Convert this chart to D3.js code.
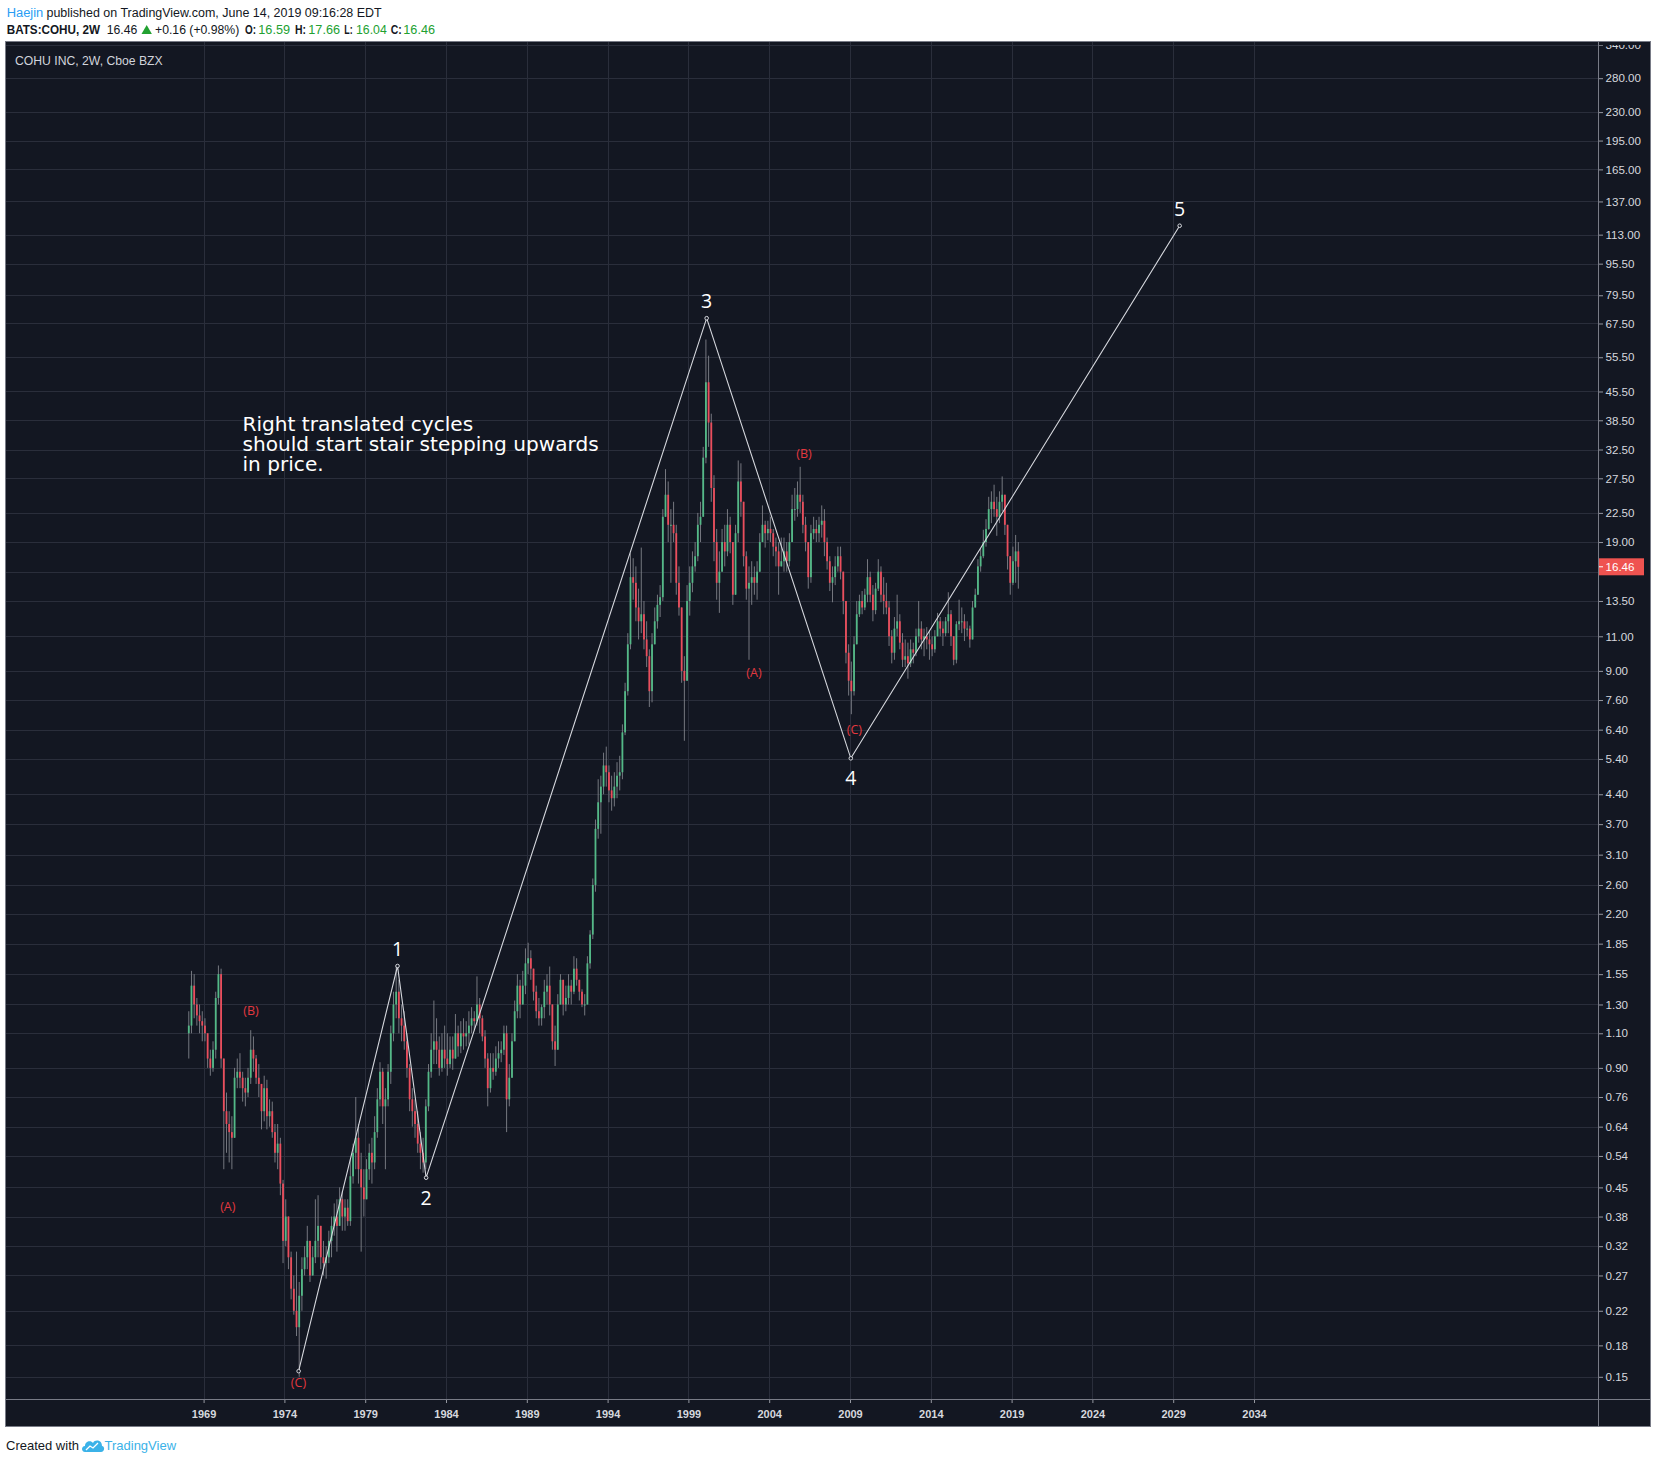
<!DOCTYPE html>
<html><head><meta charset="utf-8">
<script src="https://cdn.jsdelivr.net/npm/d3@7"></script>
<style>html,body{margin:0;padding:0;background:#fff;}svg{display:block}</style>
</head><body>
<svg id="c" width="1654" height="1463"></svg>
<script>
// ---------------- DATA ----------------
const startYear = 1968;          // first two-month period begins Jan 1968
const firstOpen = 1.10;
// [high, low, close] for each two-month period (open = previous close)
const bars = [
 [1.25,0.95,1.15],[1.58,1.10,1.45],[1.55,1.20,1.30],[1.35,1.15,1.22],[1.30,1.10,1.18],[1.25,1.05,1.15], // 1968
 [1.20,1.05,1.10],[1.10,0.90,0.95],[1.00,0.86,0.90],[1.05,0.88,1.00],[1.40,0.95,1.35],[1.63,1.30,1.55], // 1969
 [1.60,0.90,0.95],[0.95,0.50,0.70],[0.78,0.55,0.65],[0.70,0.52,0.62],[0.68,0.50,0.60],[0.90,0.60,0.85], // 1970
 [0.95,0.80,0.88],[0.98,0.80,0.85],[0.88,0.74,0.80],[0.85,0.72,0.78],[0.90,0.76,0.85],[1.12,0.82,1.00], // 1971
 [1.08,0.88,0.95],[0.97,0.82,0.85],[0.92,0.76,0.82],[0.82,0.63,0.70],[0.86,0.66,0.80],[0.84,0.63,0.68], // 1972
 [0.75,0.64,0.70],[0.74,0.60,0.62],[0.65,0.52,0.55],[0.65,0.50,0.58],[0.60,0.43,0.46],[0.47,0.29,0.33], // 1973
 [0.42,0.32,0.38],[0.36,0.28,0.30],[0.31,0.235,0.25],[0.27,0.215,0.22],[0.31,0.19,0.20],[0.26,0.15,0.24], // 1974
 [0.30,0.22,0.28],[0.32,0.27,0.30],[0.36,0.28,0.33],[0.33,0.26,0.27],[0.32,0.27,0.30],[0.42,0.29,0.33], // 1975
 [0.43,0.30,0.36],[0.36,0.28,0.30],[0.33,0.27,0.29],[0.32,0.265,0.30],[0.35,0.29,0.33],[0.38,0.30,0.36], // 1976
 [0.41,0.34,0.38],[0.42,0.31,0.36],[0.45,0.37,0.42],[0.44,0.35,0.38],[0.42,0.35,0.40],[0.42,0.36,0.37], // 1977
 [0.53,0.36,0.48],[0.58,0.46,0.55],[0.76,0.50,0.60],[0.65,0.46,0.50],[0.55,0.31,0.45],[0.50,0.38,0.42], // 1978
 [0.53,0.42,0.50],[0.58,0.47,0.55],[0.60,0.46,0.52],[0.68,0.50,0.62],[0.80,0.60,0.75],[0.93,0.72,0.88], // 1979
 [0.90,0.65,0.72],[0.80,0.50,0.75],[0.92,0.72,0.88],[1.15,0.82,1.10],[1.40,1.05,1.30],[1.62,1.20,1.40], // 1980
 [1.50,1.10,1.20],[1.30,1.05,1.15],[1.25,1.00,1.05],[1.10,0.85,0.90],[0.92,0.70,0.75],[0.80,0.64,0.70], // 1981
 [0.75,0.60,0.65],[0.70,0.55,0.58],[0.62,0.50,0.55],[0.60,0.49,0.52],[0.75,0.50,0.72],[0.92,0.70,0.88], // 1982
 [1.10,0.85,1.00],[1.33,0.92,1.05],[1.20,0.92,1.00],[1.08,0.86,0.90],[1.10,0.88,1.00],[1.15,0.90,0.95], // 1983
 [1.10,0.86,0.92],[1.08,0.90,1.00],[1.08,0.89,0.95],[1.23,0.97,1.10],[1.15,0.96,1.02],[1.18,0.98,1.10], // 1984
 [1.20,1.00,1.08],[1.18,1.02,1.10],[1.25,1.03,1.15],[1.28,1.10,1.20],[1.25,1.12,1.18],[1.53,1.15,1.30], // 1985
 [1.35,1.10,1.20],[1.22,1.05,1.08],[1.12,0.90,0.95],[0.98,0.72,0.80],[0.98,0.78,0.90],[0.98,0.84,0.88], // 1986
 [1.02,0.86,0.95],[1.05,0.90,0.98],[1.05,0.93,1.00],[1.15,0.97,1.10],[1.15,0.62,0.75],[0.92,0.72,0.85], // 1987
 [1.10,0.85,1.05],[1.33,1.05,1.25],[1.55,1.20,1.45],[1.50,1.20,1.30],[1.58,1.30,1.45],[1.80,1.38,1.65], // 1988
 [1.86,1.55,1.70],[1.78,1.50,1.60],[1.60,1.33,1.40],[1.45,1.20,1.25],[1.35,1.15,1.20],[1.30,1.15,1.28], // 1989
 [1.50,1.20,1.40],[1.55,1.30,1.45],[1.62,1.22,1.30],[1.30,1.00,1.05],[1.15,0.91,1.00],[1.38,1.05,1.30], // 1990
 [1.55,1.30,1.50],[1.50,1.22,1.30],[1.45,1.25,1.35],[1.55,1.30,1.45],[1.50,1.30,1.40],[1.72,1.38,1.60], // 1991
 [1.70,1.45,1.50],[1.50,1.33,1.40],[1.42,1.28,1.30],[1.38,1.22,1.30],[1.72,1.30,1.65],[2.00,1.60,1.95], // 1992
 [2.70,1.90,2.60],[3.80,2.50,3.60],[4.80,3.40,4.20],[4.90,3.50,4.60],[5.60,4.40,5.20],[5.80,4.60,5.00], // 1993
 [5.20,4.20,4.50],[4.90,4.00,4.30],[5.00,4.10,4.60],[5.30,4.30,4.90],[5.50,4.50,5.00],[6.60,4.80,6.30], // 1994
 [8.40,6.20,8.00],[11.2,7.80,10.5],[17.8,10.2,15.5],[17.3,13.6,15.0],[16.5,12.0,13.0],[14.5,10.8,12.0], // 1995
 [18.4,11.2,12.5],[13.5,10.2,10.8],[12.0,9.20,9.80],[10.2,7.30,8.00],[11.2,7.50,10.5],[13.0,10.5,12.0], // 1996
 [14.0,11.5,13.2],[14.8,12.3,13.8],[23.0,13.5,22.0],[29.0,22.0,25.0],[27.0,19.0,21.0],[23.0,15.0,21.0], // 1997
 [24.0,19.0,20.0],[21.0,14.0,15.0],[16.5,12.4,13.0],[13.0,8.40,9.00],[9.80,6.00,8.50],[14.8,8.50,13.5], // 1998
 [16.5,12.4,15.0],[18.0,14.2,16.5],[19.0,16.0,17.5],[22.5,17.0,21.0],[24.0,19.0,22.0],[33.0,22.0,31.0], // 1999
 [61.5,30.0,48.0],[56.0,33.0,38.0],[40.0,24.0,26.0],[28.0,17.0,19.0],[20.5,13.6,15.0],[18.0,12.6,16.0], // 2000
 [20.5,16.0,19.0],[21.0,16.5,18.0],[23.0,17.5,21.0],[22.0,17.8,19.0],[18.0,13.2,14.0],[21.0,15.5,20.0], // 2001
 [30.5,19.0,27.0],[30.0,22.0,24.0],[24.0,16.5,17.5],[18.0,13.6,14.5],[16.5,9.60,15.0],[17.0,13.2,15.5], // 2002
 [16.5,14.0,15.0],[17.0,13.6,16.0],[20.0,16.0,19.0],[23.5,19.0,21.0],[21.5,18.4,20.0],[21.5,19.2,20.5], // 2003
 [22.0,19.0,20.0],[20.5,17.5,18.5],[19.5,16.5,18.0],[19.0,14.0,16.5],[19.5,16.5,17.0],[19.5,16.0,18.0], // 2004
 [19.0,16.0,17.0],[20.0,16.5,19.0],[25.0,19.0,23.0],[26.0,21.5,23.0],[27.0,22.0,25.0],[29.4,22.5,24.0], // 2005
 [25.0,20.0,21.0],[22.0,18.0,19.0],[19.0,14.5,15.5],[21.0,15.0,20.0],[22.0,19.3,20.5],[21.6,19.0,20.0], // 2006
 [22.0,19.0,21.0],[23.5,19.5,21.5],[23.0,17.5,19.0],[19.5,16.2,17.0],[17.5,14.3,15.0],[16.5,13.4,15.5], // 2007
 [17.5,14.8,16.5],[18.5,16.0,17.5],[18.5,15.3,16.0],[16.0,12.5,13.5],[13.5,9.40,10.0],[10.5,7.80,8.50], // 2008
 [9.50,7.00,8.00],[11.0,7.80,10.5],[13.5,10.5,12.5],[14.0,12.3,13.5],[14.3,12.5,13.0],[14.5,12.8,14.0], // 2009
 [17.2,13.4,15.5],[16.0,13.4,14.0],[14.8,12.0,12.8],[15.0,12.5,14.5],[17.2,14.3,16.0],[16.5,13.4,14.0], // 2010
 [15.5,12.5,13.5],[15.0,12.5,13.0],[13.5,10.4,11.0],[11.4,9.40,10.0],[12.3,9.60,11.5],[14.0,11.0,12.0], // 2011
 [12.5,10.2,10.6],[11.2,9.20,9.60],[10.8,9.20,9.80],[10.6,8.60,9.40],[10.8,9.20,10.2],[10.6,9.40,10.0], // 2012
 [11.5,9.80,11.0],[13.5,10.6,11.5],[12.0,10.2,10.8],[11.5,9.80,11.0],[11.6,10.2,10.8],[11.4,9.60,10.5], // 2013
 [11.0,9.80,10.2],[11.4,10.0,11.0],[12.6,11.0,12.0],[12.3,11.0,11.5],[12.0,10.4,11.2],[12.3,11.0,12.0], // 2014
 [14.2,11.2,12.5],[12.8,10.4,11.0],[11.0,9.30,9.60],[12.0,9.40,11.8],[13.6,11.4,12.0],[13.0,11.2,12.0], // 2015
 [12.5,10.7,11.5],[12.0,11.0,11.5],[11.7,10.3,10.8],[13.5,10.8,13.0],[14.5,13.0,14.0],[17.2,14.0,16.5], // 2016
 [18.3,16.0,17.5],[20.4,17.3,19.0],[21.7,18.5,20.5],[24.7,20.4,23.0],[25.5,21.2,24.0],[26.5,22.0,23.0], // 2017
 [24.7,19.7,22.0],[25.5,21.2,24.0],[27.8,22.7,25.0],[25.0,19.8,21.0],[21.0,16.2,17.5],[17.5,14.0,15.0], // 2018
 [18.5,14.8,17.0],[19.8,15.0,18.0],[19.0,14.5,16.46]                                                     // 2019
];
const yearTicks = [1969,1974,1979,1984,1989,1994,1999,2004,2009,2014,2019,2024,2029,2034];
const priceTicks = [340,280,230,195,165,137,113,95.5,79.5,67.5,55.5,45.5,38.5,32.5,27.5,22.5,19,16,13.5,11,9,7.6,6.4,5.4,4.4,3.7,3.1,2.6,2.2,1.85,1.55,1.3,1.1,0.9,0.76,0.64,0.54,0.45,0.38,0.32,0.27,0.22,0.18,0.15];
const hiddenTick = 16;   // its label sits under the last-price box
const waveTimes  = [1974.88, 1981.0, 1982.77, 2000.13, 2009.05, 2029.4];
const wavePrices = [0.155, 1.625, 0.476, 69.6, 5.42, 119];
const waveLabels = ["", "1", "2", "3", "4", "5"];
const corrTimes  = [1970.50, 1971.93, 1974.87, 2003.06, 2006.15, 2009.27];
const corrPrices = [0.402, 1.255, 0.145, 8.91, 31.8, 6.41];
const corrLabels = ["(A)", "(B)", "(C)", "(A)", "(B)", "(C)"];
const noteLines = ["Right translated cycles", "should start stair stepping upwards", "in price."];
const noteTime = 1971.41, notePrice = 37.9;
const lastPrice = 16.46;

// ---------------- DRAW ----------------
const svg = d3.select("#c");
const plot = {l:6, t:42, r:1598, b:1399};
const frame = {l:6, t:42, r:1650, b:1426};
const x = d3.scaleLinear().domain([1969, 2034]).range([203.6, 1254]);
const y = d3.scaleLog().domain([0.15, 280]).range([1376.8, 78.2]);

const defs = svg.append("defs");
defs.append("clipPath").attr("id","plotClip").append("rect")
  .attr("x",plot.l).attr("y",plot.t).attr("width",plot.r-plot.l).attr("height",plot.b-plot.t);
defs.append("clipPath").attr("id","axisClip").append("rect")
  .attr("x",plot.r).attr("y",45).attr("width",frame.r-plot.r).attr("height",plot.b-45);

// background
svg.append("rect").attr("x",frame.l).attr("y",frame.t).attr("width",frame.r-frame.l).attr("height",frame.b-frame.t)
  .attr("fill","#131722");

// grid
const grid = svg.append("g").attr("clip-path","url(#plotClip)");
grid.selectAll("line.h").data(priceTicks).join("line").attr("class","h")
  .attr("x1",plot.l).attr("x2",plot.r).attr("y1",d=>Math.round(y(d))+0.5).attr("y2",d=>Math.round(y(d))+0.5)
  .attr("stroke","#2a2e3b").attr("stroke-width",1);
grid.selectAll("line.v").data(yearTicks).join("line").attr("class","v")
  .attr("y1",plot.t).attr("y2",plot.b).attr("x1",d=>Math.round(x(d))+0.5).attr("x2",d=>Math.round(x(d))+0.5)
  .attr("stroke","#2a2e3b").attr("stroke-width",1);

// candles
const candles = bars.map((b,i)=>{
  const o = i ? bars[i-1][2] : firstOpen, c = b[2];
  return {t: startYear + i/6 + 1/12, o, c, h: Math.max(b[0],o,c), l: Math.min(b[1],o,c)};
});
const cg = svg.append("g").attr("clip-path","url(#plotClip)");
cg.selectAll("line.w").data(candles).join("line").attr("class","w")
  .attr("x1",d=>x(d.t)).attr("x2",d=>x(d.t)).attr("y1",d=>y(d.h)).attr("y2",d=>y(d.l))
  .attr("stroke","#80828a").attr("stroke-width",0.9);
cg.selectAll("rect").data(candles).join("rect")
  .attr("x",d=>x(d.t)-0.9).attr("width",1.8)
  .attr("y",d=>y(Math.max(d.o,d.c)))
  .attr("height",d=>Math.max(1, y(Math.min(d.o,d.c)) - y(Math.max(d.o,d.c))))
  .attr("fill",d=>d.c>=d.o ? "#53b987" : "#eb4d5c");

// wave line
const wavePts = waveTimes.map((t,i)=>[x(t), y(wavePrices[i])]);
const ov = svg.append("g").attr("clip-path","url(#plotClip)");
ov.append("path").attr("d", d3.line()(wavePts)).attr("fill","none").attr("stroke","#d6d8de").attr("stroke-width",1.1);
ov.selectAll("circle").data(wavePts).join("circle").attr("cx",d=>d[0]).attr("cy",d=>d[1]).attr("r",1.8)
  .attr("fill","#131722").attr("stroke","#d6d8de").attr("stroke-width",1);
// wave labels (peaks above, troughs below)
ov.selectAll("text.wl").data(waveLabels.map((s,i)=>({s,i}))).join("text").attr("class","wl")
  .attr("x",d=>wavePts[d.i][0])
  .attr("y",d=>{ const isPeak = d.i===1||d.i===3||d.i===5; return wavePts[d.i][1] + (isPeak ? -10 : 27); })
  .attr("text-anchor","middle").attr("font-family","'Open Sans', 'DejaVu Sans', sans-serif")
  .attr("font-size",19.5).attr("fill","#ffffff").text(d=>d.s);

// correction labels
ov.selectAll("text.cl").data(corrLabels.map((s,i)=>({s,i}))).join("text").attr("class","cl")
  .attr("x",d=>x(corrTimes[d.i])).attr("y",d=>y(corrPrices[d.i]))
  .attr("dy","0.35em").attr("text-anchor","middle")
  .attr("font-family","'Open Sans', sans-serif").attr("font-size",12.5).attr("fill","#e2383f").text(d=>d.s);

// note
const note = ov.append("text").attr("x",x(noteTime)).attr("y",y(notePrice)+8)
  .attr("font-family","'DejaVu Sans', sans-serif").attr("font-size",20.1).attr("fill","#ffffff");
note.selectAll("tspan").data(noteLines).join("tspan").attr("x",x(noteTime)).attr("dy",(d,i)=>i?19.8:0).text(d=>d);

// symbol title
svg.append("text").attr("x",15).attr("y",65).attr("font-family","'Liberation Sans', Arial, sans-serif")
  .attr("font-size",12.2).attr("fill","#d1d4dc").text("COHU INC, 2W, Cboe BZX");

// price axis
const yAxisG = svg.append("g").attr("clip-path","url(#axisClip)").append("g")
  .attr("transform",`translate(${plot.r},0)`)
  .call(d3.axisRight(y).tickValues(priceTicks)
        .tickFormat(d => d === hiddenTick ? "" : d3.format(".2f")(d)).tickSize(5).tickPadding(2.5));
yAxisG.select(".domain").remove();
yAxisG.selectAll(".tick line").attr("stroke","#9598a1");
yAxisG.selectAll(".tick text").attr("fill","#d6d8de").attr("font-family","'Liberation Sans', Arial, sans-serif")
  .attr("font-size",11.6);

// last price label
const lp = svg.append("g");
lp.append("rect").attr("x",plot.r+1).attr("y",y(lastPrice)-8.5).attr("width",45).attr("height",17).attr("fill","#ef5350");
lp.append("line").attr("x1",plot.r).attr("x2",plot.r+5).attr("y1",y(lastPrice)).attr("y2",y(lastPrice)).attr("stroke","#ffffff");
lp.append("text").attr("x",plot.r+7.5).attr("y",y(lastPrice)).attr("dy","0.35em")
  .attr("font-family","'Liberation Sans', Arial, sans-serif").attr("font-size",11.6).attr("fill","#ffffff").text(lastPrice.toFixed(2));

// time axis
const xAxisG = svg.append("g").attr("transform",`translate(0,${plot.b})`)
  .call(d3.axisBottom(x).tickValues(yearTicks).tickFormat(d3.format("d")).tickSize(4).tickPadding(7));
xAxisG.select(".domain").remove();
xAxisG.selectAll(".tick line").attr("stroke","#9598a1");
xAxisG.selectAll(".tick text").attr("fill","#d6d8de").attr("font-family","'Liberation Sans', Arial, sans-serif")
  .attr("font-size",11).attr("font-weight","bold");

// separators and frame
svg.append("line").attr("x1",plot.l).attr("x2",frame.r).attr("y1",plot.b+0.5).attr("y2",plot.b+0.5).attr("stroke","#787b86");
svg.append("line").attr("x1",plot.r+0.5).attr("x2",plot.r+0.5).attr("y1",frame.t).attr("y2",frame.b).attr("stroke","#787b86");
svg.append("rect").attr("x",frame.l-0.5).attr("y",frame.t-0.5).attr("width",frame.r-frame.l+1).attr("height",frame.b-frame.t+1)
  .attr("fill","none").attr("stroke","#787b86");

// header
const hf = "'Liberation Sans', Arial, sans-serif";
const line1 = [
  {x:6.7, w:36.6, t:"Haejin", c:"#2a9df4"},
  {x:46.5, w:335.2, t:"published on TradingView.com, June 14, 2019 09:16:28 EDT", c:"#131722"}
];
svg.selectAll("text.h1").data(line1).join("text").attr("class","h1")
  .attr("x",d=>d.x).attr("y",17).attr("font-family",hf).attr("font-size",12.5)
  .attr("textLength",d=>d.w).attr("lengthAdjust","spacingAndGlyphs").attr("fill",d=>d.c).text(d=>d.t);
const hdr = [
  {x:6.7,  w:93.3, t:"BATS:COHU, 2W", b:true, c:"#131722"},
  {x:106.7,w:30.6, t:"16.46", b:false, c:"#131722"},
  {x:155,  w:84.3, t:"+0.16 (+0.98%)", b:false, c:"#131722"},
  {x:245,  w:11,   t:"O:", b:true, c:"#131722"},
  {x:258.3,w:31.7, t:"16.59", b:false, c:"#22a131"},
  {x:295,  w:11,   t:"H:", b:true, c:"#131722"},
  {x:308.3,w:31.7, t:"17.66", b:false, c:"#22a131"},
  {x:344.3,w:8.4,  t:"L:", b:true, c:"#131722"},
  {x:356,  w:30.7, t:"16.04", b:false, c:"#22a131"},
  {x:390.7,w:11,   t:"C:", b:true, c:"#131722"},
  {x:403.3,w:31.7, t:"16.46", b:false, c:"#22a131"}
];
svg.selectAll("text.hdr").data(hdr).join("text").attr("class","hdr")
  .attr("x",d=>d.x).attr("y",33.5).attr("font-family",hf).attr("font-size",12.5)
  .attr("textLength",d=>d.w).attr("lengthAdjust","spacingAndGlyphs")
  .attr("font-weight",d=>d.b?"bold":"normal").attr("fill",d=>d.c).text(d=>d.t);
svg.append("path").attr("d","M141.5,34 L146.7,25 L151.9,34 Z").attr("fill","#22a131");

// footer
svg.append("text").attr("x",6).attr("y",1450).attr("font-family",hf).attr("font-size",13).attr("fill","#131722").text("Created with");
const logo = svg.append("g").attr("transform","translate(82,1438)");
logo.append("path").attr("d","M3,14 C-1,14 -1,8 3,8 C3,3 9,2 11,5 C13,1 20,2 20,8 C23,8 23,14 19,14 Z").attr("fill","#3bb2e8");
logo.append("path").attr("d","M4,12 L8,8 L11,10 L16,5").attr("fill","none").attr("stroke","#ffffff").attr("stroke-width",1.3);
svg.append("text").attr("x",104.5).attr("y",1450).attr("font-family",hf).attr("font-size",13).attr("fill","#3bb2e8").text("TradingView");
</script>
</body></html>
